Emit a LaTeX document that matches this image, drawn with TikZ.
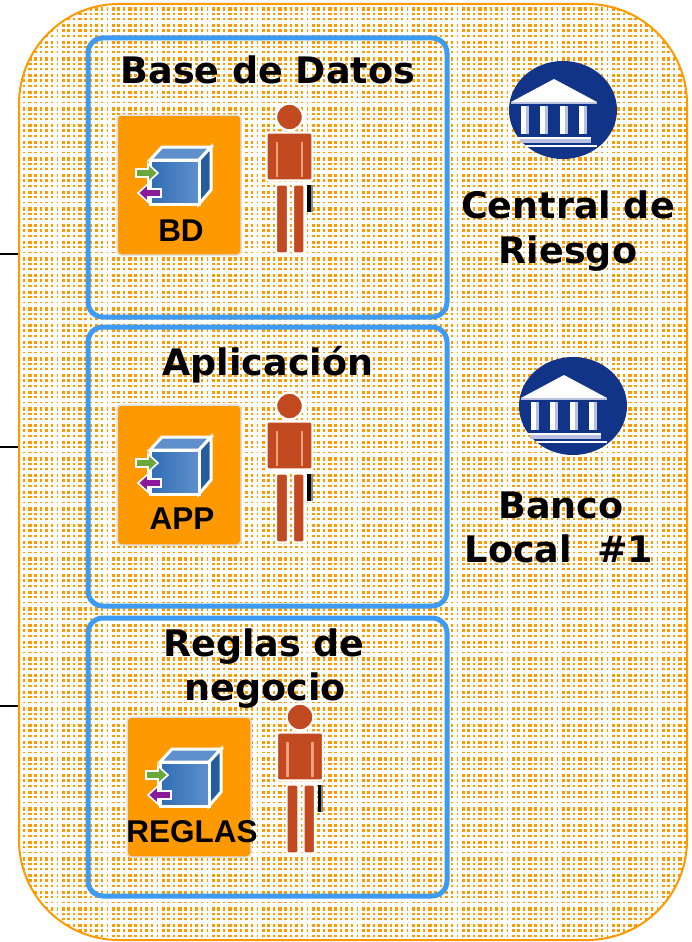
\documentclass[tikz,border=0pt]{standalone}
\usepackage{fontspec}
\setmainfont{Liberation Sans}
\newfontfamily\titlefont{DejaVu Sans}
\definecolor{dotorange}{HTML}{FF9900}
\definecolor{boxblue}{HTML}{3D9BF3}
\definecolor{bankblue}{HTML}{123488}
\definecolor{manbrown}{HTML}{C24A20}
\definecolor{manlight}{HTML}{F0A080}
\definecolor{lav}{HTML}{B9C0E0}
\definecolor{cubeA}{HTML}{2F6DB5}
\definecolor{cubeB}{HTML}{5F90CC}
\definecolor{cubeC}{HTML}{245C9C}
\definecolor{arrowgreen}{HTML}{6BA83C}
\definecolor{arrowpurple}{HTML}{8B1A9B}
\tikzset{
  panel/.style={draw=boxblue,line width=5pt,rounded corners=15pt},
  title/.style={font=\titlefont\bfseries\fontsize{36.5}{36.5}\selectfont,text=black,inner sep=0pt,anchor=base},
  tilelabel/.style={font=\bfseries\fontsize{31.5}{31.5}\selectfont,text=black,inner sep=0pt,anchor=center},
  stub/.style={draw=black,line width=1.2pt},
  dots/.style={dotorange,dash pattern=on 3.3pt off 2.3pt on 2.7pt off 3.3pt on 1.7pt off 3.37pt},
  pics/tile/.style={code={
    \fill[dotorange,draw=black!12,line width=1.5pt,rounded corners=4pt] (0,0) rectangle (124,140);
    \filldraw[draw=white,line width=3pt,fill=cubeB,line join=miter] (33,45)--(45,32)--(94,32)--(82,45)--cycle;
    \filldraw[draw=white,line width=3pt,fill=cubeC] (82,45)--(94,32)--(94,75)--(82,89)--cycle;
    \shade[left color=cubeA,right color=cubeB] (33,45) rectangle (82,89);
    \draw[white,line width=3pt] (33,45) rectangle (82,89);
    \filldraw[draw=white,line width=1.6pt,fill=arrowgreen] (19,54)--(31,54)--(31,49)--(41,58)--(31,67)--(31,62)--(19,62)--cycle;
    \filldraw[draw=white,line width=1.6pt,fill=arrowpurple] (44,74)--(31,74)--(31,69)--(21,78)--(31,87)--(31,82)--(44,82)--cycle;
  }},
  pics/man/.style={code={
    \begin{scope}[line join=round]
    \filldraw[draw=white,line width=2.4pt,fill=manbrown] (0,0) circle (13.5);
    \filldraw[draw=white,line width=2.4pt,fill=manbrown,rounded corners=2pt] (-23,15.5) rectangle (23,63.5);
    \filldraw[draw=white,line width=2.4pt,fill=manbrown,rounded corners=2pt] (-13.5,67.5) rectangle (-1.5,136.5);
    \filldraw[draw=white,line width=2.4pt,fill=manbrown,rounded corners=2pt] (3.5,67.5) rectangle (15,136.5);
    \draw[manlight,line width=2.6pt] (-12.5,25)--(-12.5,60) (12.5,25)--(12.5,60);
    \fill[black] (17.5,68) rectangle (21,95);
    \fill[black!45] (21,68) rectangle (23,95);
    \end{scope}
  }},
  pics/bank/.style={code={
    \fill[bankblue] (0,0) ellipse (54 and 49);
    \fill[white] (-9,-31)--(34,-8)--(-52,-8)--cycle;
    \fill[lav] (-52,-8) rectangle (34,-6);
    \foreach \c in {-42,-23,-3,16}{
      \fill[white] (\c,-4) rectangle ++(5,28);
      \fill[lav] (\c+5,-4) rectangle ++(2.5,28);
    }
    \fill[white] (-45,27) rectangle (28,29);
    \fill[lav] (-43,29) rectangle (28,33);
    \fill[white] (-37,35) rectangle (34,37);
  }}
}
\begin{document}
\begin{tikzpicture}[x=1pt,y=-1pt]
\useasboundingbox (0,0) rectangle (691,942);
\fill[white] (0,0) rectangle (691,942);
\coordinate (s1) at (0,254); \coordinate (e1) at (19,254);
\coordinate (s2) at (0,447); \coordinate (e2) at (19,447);
\coordinate (s3) at (0,706); \coordinate (e3) at (19,706);
\draw[stub] (s1)--(e1);
\draw[stub] (s2)--(e2);
\draw[stub] (s3)--(e3);
\begin{scope}
\clip[rounded corners=100pt] (19,4) rectangle (687,940);
\foreach \k in {0,...,56}{
  \draw[dots,line width=3.3pt] (11.67,{8.9+16.67*\k})--(690,{8.9+16.67*\k});
  \draw[dots,line width=2.4pt] (11.67,{13.73+16.67*\k})--(690,{13.73+16.67*\k});
  \draw[dots,line width=1.7pt] (11.67,{19+16.67*\k})--(690,{19+16.67*\k});
}
\end{scope}
\draw[dotorange,line width=2pt,rounded corners=100pt] (19,4) rectangle (687,940);
\draw[panel] (88,38) rectangle (447,317);
\draw[panel] (88,327) rectangle (447,606);
\draw[panel] (88,618) rectangle (447,896);
\pic at (117,115) {tile};
\pic at (117,405) {tile};
\pic at (127,717) {tile};
\pic at (289.5,117) {man};
\pic at (289.5,406) {man};
\pic at (300,717) {man};
\pic at (563,110) {bank};
\pic at (573,406) {bank};
\node[title] (t1) at (268,84) {Base de Datos};
\node[title] (t2) at (268,375) {Aplicación};
\node[title] (t3a) at (264,656) {Reglas de};
\node[title] (t3b) at (265,700) {negocio};
\node[title] (t4a) at (568,218) {Central de};
\node[title] (t4b) at (568,263) {Riesgo};
\node[title] (t5a) at (561,518) {Banco};
\node[title] (t5b) at (559,562) {Local\ \ \#1};
\node[tilelabel] (l1) at (181,231) {BD};
\node[tilelabel] (l2) at (182,519) {APP};
\node[tilelabel] (l3) at (192,832) {REGLAS};
\end{tikzpicture}
\end{document}
